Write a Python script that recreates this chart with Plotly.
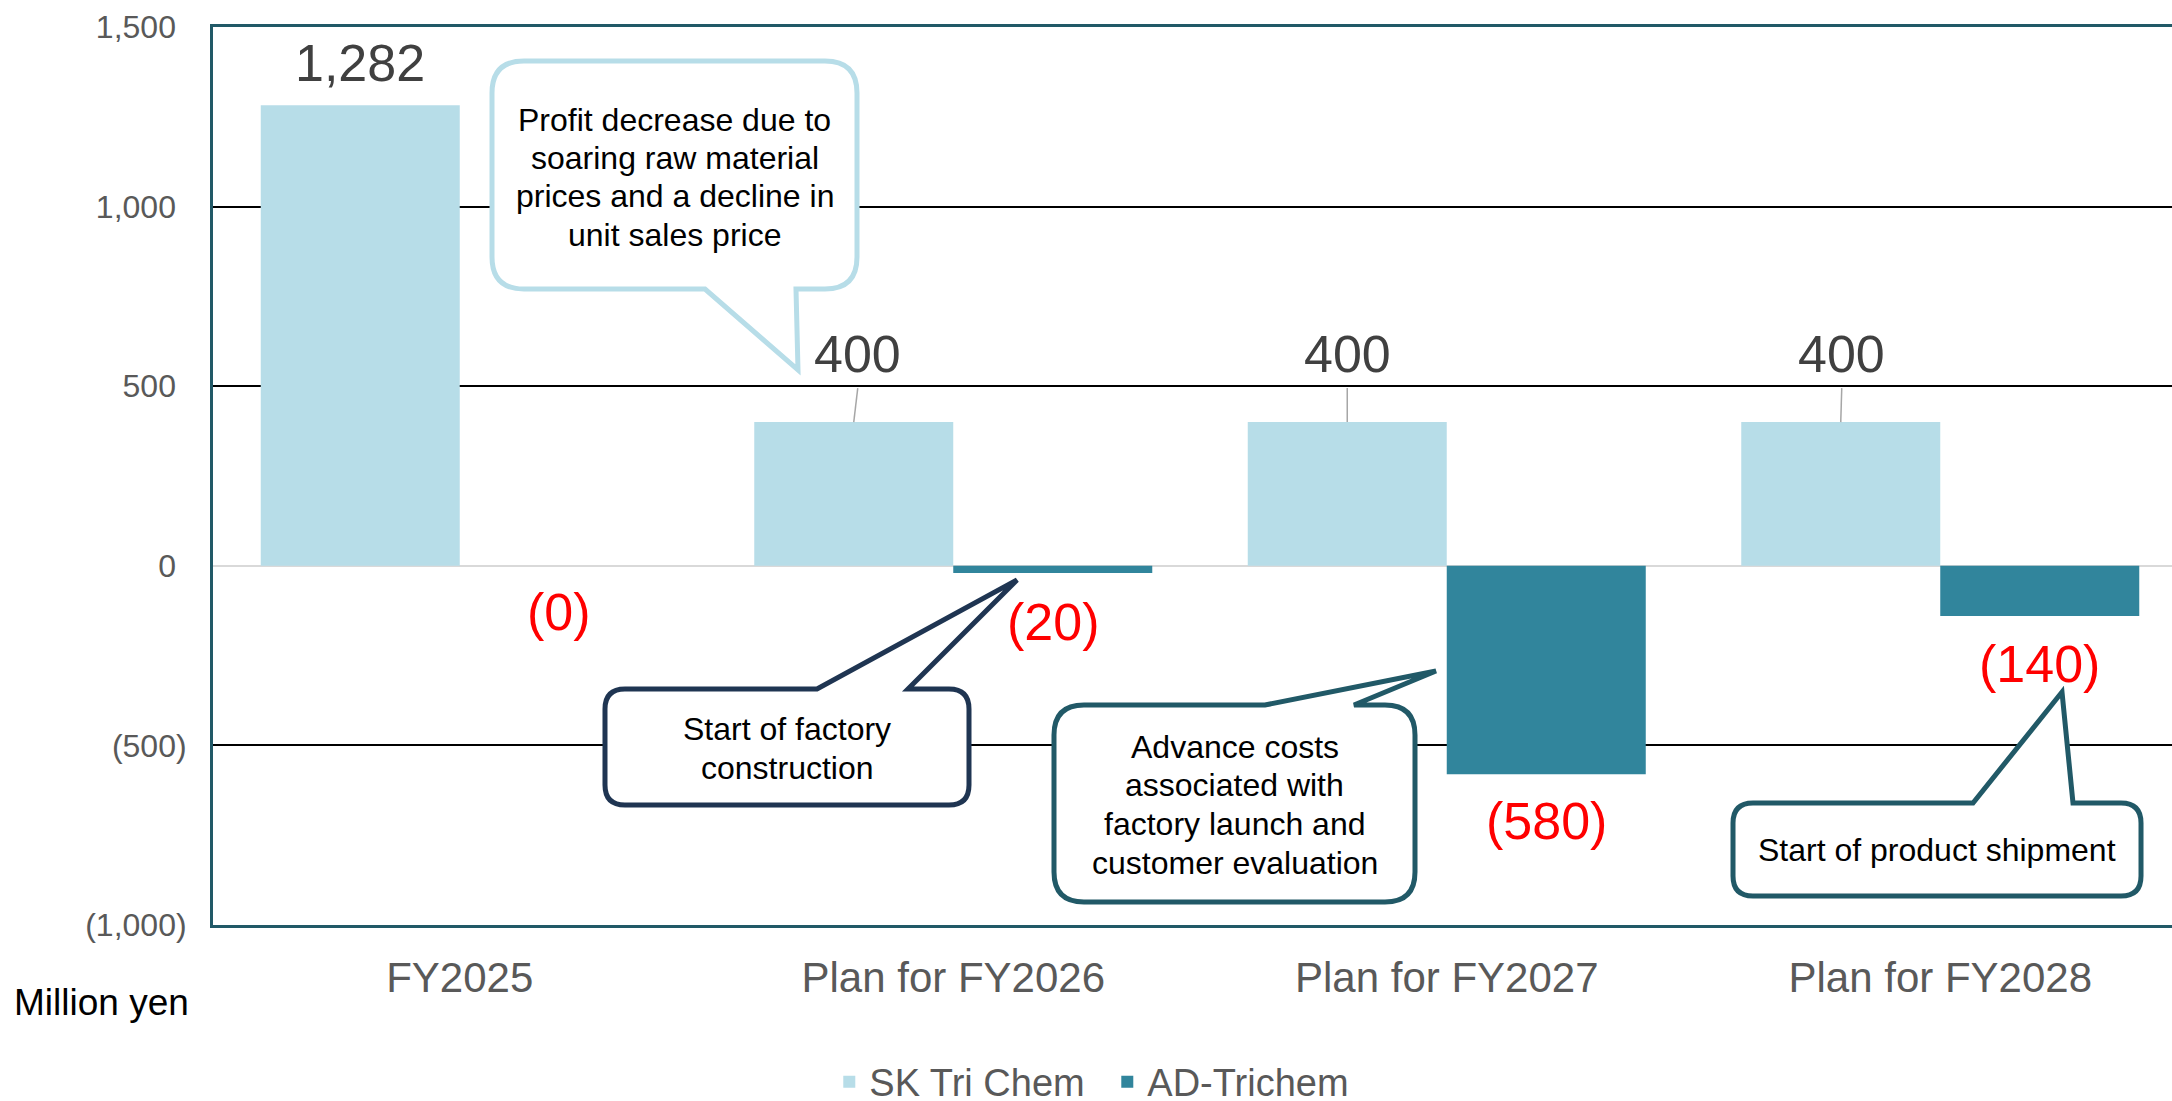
import math
import plotly.graph_objects as go

# ---------------- data ----------------
categories = ["FY2025", "Plan for FY2026", "Plan for FY2027", "Plan for FY2028"]
series_names = ["SK Tri Chem", "AD-Trichem"]
sk_values = [1282, 400, 400, 400]
ad_values = [-0.0, -20, -580, -140]
y_ticks = [-1000, -500, 0, 500, 1000, 1500]
unit_label = "Million yen"

callout_texts = [
    ["Profit decrease due to", "soaring raw material", "prices and a decline in", "unit sales price"],
    ["Start of factory", "construction"],
    ["Advance costs", "associated with", "factory launch and", "customer evaluation"],
    ["Start of product shipment"],
]

# ---------------- style / layout ----------------
W, H = 2172, 1101
PL, PR, PT, PB = 213, 2172, 27, 925          # plot area in pixels
FONT = "Liberation Sans, Arial, sans-serif"
C_SK = "#B7DDE8"
C_AD = "#31859C"
C_BORDER = "#215967"
C_NAVY = "#1F3552"
GRAY_TXT = "#595959"
BARGAP = 0.1935
X_RANGE = [-0.5, 3.4696]


def fmt(v):
    s = f"{abs(round(v)):,}"
    return f"({s})" if math.copysign(1, v) < 0 else s


def px(x):
    return (x - PL) / (PR - PL)


def py(y):
    return (PB - y) / (PB - PT)


def tick_text(v):
    if v < 0:
        return fmt(v)
    return fmt(v) + "<span style='color:rgba(0,0,0,0)'>)</span>"


fig = go.Figure()
fig.add_trace(go.Bar(x=list(range(len(categories))), y=sk_values, name=series_names[0],
                     marker=dict(color=C_SK, line=dict(width=0))))
fig.add_trace(go.Bar(x=list(range(len(categories))), y=ad_values, name=series_names[1],
                     marker=dict(color=C_AD, line=dict(width=0))))

half = (1 - BARGAP) / 4.0
annotations = []
shapes = []

sk_offsets = [42, 68, 68, 68]
sk_xshift = [0, 4, 0, 1]
for i, v in enumerate(sk_values):
    annotations.append(dict(x=i - half, y=v, xref="x", yref="y", text=fmt(v), showarrow=False,
                            yshift=sk_offsets[i], xshift=sk_xshift[i], xanchor="center", yanchor="middle",
                            font=dict(family=FONT, size=52, color="#404040")))
    if sk_offsets[i] > 50:
        shapes.append(dict(type="line", xref="x", yref="y", xsizemode="pixel", ysizemode="pixel",
                           xanchor=i - half, yanchor=v, x0=0, x1=sk_xshift[i], y0=0, y1=34,
                           line=dict(color="#A6A6A6", width=1.5), layer="above"))

ad_offsets = [-46, -49, -47, -48]
for i, v in enumerate(ad_values):
    annotations.append(dict(x=i + half, y=v, xref="x", yref="y", text=fmt(v), showarrow=False,
                            yshift=ad_offsets[i], xanchor="center", yanchor="middle",
                            font=dict(family=FONT, size=52, color="#FF0000")))


def callout_path(x0, y0, x1, y1, r, side, b1, b2, tip):
    def P(x, y):
        return f"{px(x):.5f},{py(y):.5f}"
    d = f"M{P(x0 + r, y0)}"
    if side == "top":
        d += f" L{P(b1, y0)} L{P(*tip)} L{P(b2, y0)}"
    d += f" L{P(x1 - r, y0)} Q{P(x1, y0)} {P(x1, y0 + r)}"
    d += f" L{P(x1, y1 - r)} Q{P(x1, y1)} {P(x1 - r, y1)}"
    if side == "bottom":
        d += f" L{P(b2, y1)} L{P(*tip)} L{P(b1, y1)}"
    d += f" L{P(x0 + r, y1)} Q{P(x0, y1)} {P(x0, y1 - r)}"
    d += f" L{P(x0, y0 + r)} Q{P(x0, y0)} {P(x0 + r, y0)} Z"
    return d


callouts = [
    dict(box=(492, 61, 857, 289), r=32, side="bottom", b1=705, b2=796, tip=(798, 370),
         color=C_SK, lines_y=[120, 158, 196, 235]),
    dict(box=(605, 689, 969, 805), r=20, side="top", b1=817, b2=908, tip=(1017, 580),
         color=C_NAVY, lines_y=[729, 768]),
    dict(box=(1054, 705, 1415, 902), r=30, side="top", b1=1265, b2=1354, tip=(1436, 671),
         color=C_BORDER, lines_y=[747, 785, 824, 863]),
    dict(box=(1733, 803, 2141, 896), r=20, side="top", b1=1973, b2=2073, tip=(2062, 692),
         color=C_BORDER, lines_y=[850]),
]

for c, texts in zip(callouts, callout_texts):
    x0, y0, x1, y1 = c["box"]
    shapes.append(dict(type="path", xref="paper", yref="paper",
                       path=callout_path(x0, y0, x1, y1, c["r"], c["side"], c["b1"], c["b2"], c["tip"]),
                       fillcolor="white", line=dict(color=c["color"], width=5), layer="above"))
    cx = (x0 + x1) / 2
    for t, ly in zip(texts, c["lines_y"]):
        annotations.append(dict(x=px(cx), y=py(ly), xref="paper", yref="paper", text=t, showarrow=False,
                                xanchor="center", yanchor="middle",
                                font=dict(family=FONT, size=32, color="black")))

annotations.append(dict(x=px(12), y=py(1002), xref="paper", yref="paper", text=unit_label, showarrow=False,
                        xanchor="left", yanchor="middle", font=dict(family=FONT, size=37, color="black")))

fig.update_layout(
    width=W, height=H,
    margin=dict(l=PL, r=W - PR, t=PT, b=H - PB, pad=0),
    paper_bgcolor="white", plot_bgcolor="white",
    barmode="group", bargap=BARGAP, bargroupgap=0,
    font=dict(family=FONT, color=GRAY_TXT),
    showlegend=True,
    legend=dict(orientation="h", xref="container", yref="container", x=0.5098, y=0.0173,
                xanchor="center", yanchor="middle", font=dict(family=FONT, size=38, color=GRAY_TXT),
                entrywidth=233, entrywidthmode="pixels",
                bgcolor="rgba(0,0,0,0)", itemclick=False),
    annotations=annotations,
    shapes=shapes,
)

fig.update_xaxes(range=X_RANGE, tickvals=list(range(len(categories))), ticktext=categories,
                 tickfont=dict(family=FONT, size=42, color=GRAY_TXT),
                 showgrid=False, zeroline=False, showline=True, mirror=True,
                 linecolor=C_BORDER, linewidth=3, ticks="", ticklabelstandoff=14)
fig.update_yaxes(range=[y_ticks[0], y_ticks[-1]], tickvals=y_ticks, ticktext=[tick_text(v) for v in y_ticks],
                 tickfont=dict(family=FONT, size=32, color=GRAY_TXT),
                 showgrid=True, gridcolor="black", gridwidth=2,
                 zeroline=True, zerolinecolor="#D9D9D9", zerolinewidth=2,
                 showline=True, linecolor=C_BORDER, linewidth=3, ticks="", ticklabelstandoff=17)

fig.write_html("out.html", config={"displayModeBar": False},
               post_script="document.body.style.margin='0';document.body.style.overflow='hidden';")
